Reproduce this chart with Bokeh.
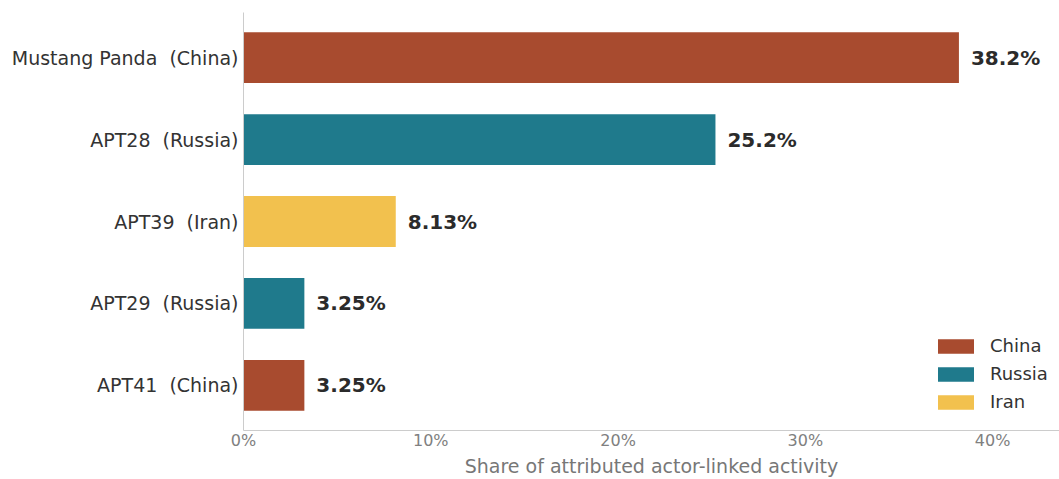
from bokeh.plotting import figure
from bokeh.models import ColumnDataSource, FactorRange, Range1d
from bokeh.core.properties import value
from bokeh.embed import file_html
from bokeh.resources import INLINE

NB = "\u00a0"
actors = ["Mustang Panda" + NB + " (China)", "APT28" + NB + " (Russia)", "APT39" + NB + " (Iran)",
          "APT29" + NB + " (Russia)", "APT41" + NB + " (China)"]
shares = [38.2, 25.2, 8.13, 3.25, 3.25]
labels = ["38.2%", "25.2%", "8.13%", "3.25%", "3.25%"]
countries = ["China", "Russia", "Iran", "Russia", "China"]
palette = {"China": "#A84B2F", "Russia": "#1F7A8C", "Iran": "#F2C14E"}
x_ticks = [0, 10, 20, 30, 40]
x_tick_labels = ["0%", "10%", "20%", "30%", "40%"]

FONT = "DejaVu Sans"

src = ColumnDataSource(dict(
    actor=actors, share=shares, label=labels, country=countries,
    color=[palette[c] for c in countries],
))

p = figure(width=1059, height=479, output_backend="svg", toolbar_location=None,
           y_range=FactorRange(factors=list(reversed(actors)), range_padding=0.02),
           x_range=Range1d(0, 43.57),
           min_border_left=243, min_border_right=0, min_border_top=12, min_border_bottom=0)

p.hbar(y="actor", right="share", left=0, height=0.62, source=src,
       fill_color="color", line_color=None, legend_field="country")

p.text(x="share", y="actor", text="label", source=src, x_offset=12,
       text_baseline="middle", text_align="left", text_font=value(FONT),
       text_font_size="20px", text_font_style="bold", text_color="#2b2b2b")

p.xgrid.visible = False
p.ygrid.visible = False
p.outline_line_color = None

p.xaxis.ticker = x_ticks
p.xaxis.major_label_overrides = dict(zip(x_ticks, x_tick_labels))
p.xaxis.axis_label = "Share of attributed actor-linked activity"
p.xaxis.axis_label_text_font = FONT
p.xaxis.axis_label_text_font_style = "normal"
p.xaxis.axis_label_text_font_size = "19px"
p.xaxis.axis_label_text_color = "#777777"
p.xaxis.axis_label_standoff = 2
p.xaxis.major_label_text_font = FONT
p.xaxis.major_label_text_font_size = "16px"
p.xaxis.major_label_text_color = "#808080"
p.xaxis.major_label_standoff = 0

for ax in (p.xaxis, p.yaxis):
    ax.axis_line_color = "#cccccc"
    ax.major_tick_line_color = None
    ax.minor_tick_line_color = None
    ax.major_tick_out = 0
    ax.major_tick_in = 0

p.yaxis.major_label_text_font = FONT
p.yaxis.major_label_text_font_size = "19px"
p.yaxis.major_label_text_color = "#333333"
p.yaxis.major_label_standoff = 5

leg = p.legend[0]
leg.location = (690, 18)
leg.border_line_color = None
leg.background_fill_alpha = 0
leg.label_text_font = FONT
leg.label_text_font_size = "18px"
leg.label_text_color = "#333333"
leg.glyph_width = 45
leg.glyph_height = 18
leg.label_standoff = 12
leg.spacing = 7
leg.padding = 5
leg.margin = 0

open("out.html", "w").write(file_html(p, INLINE))
